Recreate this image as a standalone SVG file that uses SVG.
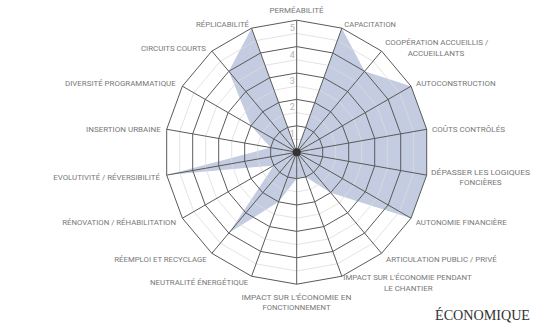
<svg xmlns="http://www.w3.org/2000/svg" width="551" height="328" viewBox="0 0 551 328">
<style>
.lbl{font-family:Roboto,"Liberation Sans",sans-serif;font-size:7.5px;fill:#777;}
.num{font-family:Roboto,"Liberation Sans",sans-serif;font-size:9px;fill:#b4b4b4;}
.major{fill:none;stroke:#5a5a5a;stroke-width:1;}
.minor{fill:none;stroke:#dcdcdc;stroke-width:0.8;}
.title{font-family:"Liberation Serif",serif;font-size:15px;fill:#333;}
</style>
<rect width="551" height="328" fill="#fff"/>
<g id="chart" transform="translate(296.7,152.2)">
  <polygon id="data" fill="#c3cce0" points="0,0 45.15,-124.04 67.88,-80.9 114.32,-66 130,-22.92 130,22.92 114.32,66 33.94,40.45 9.03,24.81 0,26.4 -18.06,49.62 -67.88,80.9 -22.86,13.2 -130,22.92 -26,-4.58 -45.73,-26.4 -67.88,-80.9 -45.15,-124.04"/>
  <g id="minor-rings" class="minor">
    <polygon points="0,-118.8 40.64,-111.64 76.37,-91.01 102.89,-59.4 117,-20.63 117,20.63 102.89,59.4 76.37,91.01 40.64,111.64 0,118.8 -40.64,111.64 -76.37,91.01 -102.89,59.4 -117,20.63 -117,-20.63 -102.89,-59.4 -76.37,-91.01 -40.64,-111.64"/>
    <polygon points="0,-92.4 31.61,-86.83 59.4,-70.78 80.02,-46.2 91,-16.04 91,16.04 80.02,46.2 59.4,70.78 31.61,86.83 0,92.4 -31.61,86.83 -59.4,70.78 -80.02,46.2 -91,16.04 -91,-16.04 -80.02,-46.2 -59.4,-70.78 -31.61,-86.83"/>
    <polygon points="0,-66 22.58,-62.02 42.43,-50.56 57.16,-33 65,-11.46 65,11.46 57.16,33 42.43,50.56 22.58,62.02 0,66 -22.58,62.02 -42.43,50.56 -57.16,33 -65,11.46 -65,-11.46 -57.16,-33 -42.43,-50.56 -22.58,-62.02"/>
    <polygon points="0,-39.6 13.55,-37.21 25.46,-30.34 34.3,-19.8 39,-6.88 39,6.88 34.3,19.8 25.46,30.34 13.55,37.21 0,39.6 -13.55,37.21 -25.46,30.34 -34.3,19.8 -39,6.88 -39,-6.88 -34.3,-19.8 -25.46,-30.34 -13.55,-37.21"/>
    <polygon points="0,-13.2 4.52,-12.4 8.49,-10.11 11.43,-6.6 13,-2.29 13,2.29 11.43,6.6 8.49,10.11 4.52,12.4 0,13.2 -4.52,12.4 -8.49,10.11 -11.43,6.6 -13,2.29 -13,-2.29 -11.43,-6.6 -8.49,-10.11 -4.52,-12.4"/>
  </g>
  <g id="major-rings" class="major">
    <polygon points="0,-132 45.15,-124.04 84.85,-101.12 114.32,-66 130,-22.92 130,22.92 114.32,66 84.85,101.12 45.15,124.04 0,132 -45.15,124.04 -84.85,101.12 -114.32,66 -130,22.92 -130,-22.92 -114.32,-66 -84.85,-101.12 -45.15,-124.04"/>
    <polygon points="0,-105.6 36.12,-99.23 67.88,-80.9 91.45,-52.8 104,-18.34 104,18.34 91.45,52.8 67.88,80.9 36.12,99.23 0,105.6 -36.12,99.23 -67.88,80.9 -91.45,52.8 -104,18.34 -104,-18.34 -91.45,-52.8 -67.88,-80.9 -36.12,-99.23"/>
    <polygon points="0,-79.2 27.09,-74.42 50.91,-60.67 68.59,-39.6 78,-13.75 78,13.75 68.59,39.6 50.91,60.67 27.09,74.42 0,79.2 -27.09,74.42 -50.91,60.67 -68.59,39.6 -78,13.75 -78,-13.75 -68.59,-39.6 -50.91,-60.67 -27.09,-74.42"/>
    <polygon points="0,-52.8 18.06,-49.62 33.94,-40.45 45.73,-26.4 52,-9.17 52,9.17 45.73,26.4 33.94,40.45 18.06,49.62 0,52.8 -18.06,49.62 -33.94,40.45 -45.73,26.4 -52,9.17 -52,-9.17 -45.73,-26.4 -33.94,-40.45 -18.06,-49.62"/>
    <polygon points="0,-26.4 9.03,-24.81 16.97,-20.22 22.86,-13.2 26,-4.58 26,4.58 22.86,13.2 16.97,20.22 9.03,24.81 0,26.4 -9.03,24.81 -16.97,20.22 -22.86,13.2 -26,4.58 -26,-4.58 -22.86,-13.2 -16.97,-20.22 -9.03,-24.81"/>
  </g>
  <g id="connectors" class="major">
    <path d="M0,0L0,-132M0,0L45.15,-124.04M0,0L84.85,-101.12M0,0L114.32,-66M0,0L130,-22.92M0,0L130,22.92M0,0L114.32,66M0,0L84.85,101.12M0,0L45.15,124.04M0,0L0,132M0,0L-45.15,124.04M0,0L-84.85,101.12M0,0L-114.32,66M0,0L-130,22.92M0,0L-130,-22.92M0,0L-114.32,-66M0,0L-84.85,-101.12M0,0L-45.15,-124.04"/>
  </g>
  <circle id="center" r="4" fill="#333"/>
  <g id="scale">
    <text class="num" x="-2" y="-121" text-anchor="end">5</text>
    <text class="num" x="-2" y="-94.6" text-anchor="end">4</text>
    <text class="num" x="-2" y="-68.2" text-anchor="end">3</text>
    <text class="num" x="-2" y="-41.8" text-anchor="end">2</text>
    <text class="num" x="-2" y="-15.4" text-anchor="end">1</text>
  </g>
</g>
<g id="labels">
  <text id="n-permeabilite" class="lbl" x="296.5" y="13" text-anchor="middle" textLength="54" lengthAdjust="spacingAndGlyphs">PERMÉABILITÉ</text>
  <text id="n-capacitation" class="lbl" x="344.3" y="27" textLength="51.7" lengthAdjust="spacingAndGlyphs">CAPACITATION</text>
  <g id="n-cooperation">
    <text class="lbl" x="436.7" y="45" text-anchor="middle" textLength="103" lengthAdjust="spacingAndGlyphs">COOPÉRATION ACCUEILLIS /</text>
    <text class="lbl" x="436" y="55.5" text-anchor="middle" textLength="56.6" lengthAdjust="spacingAndGlyphs">ACCUEILLANTS</text>
  </g>
  <text id="n-autoconstruction" class="lbl" x="416" y="86" textLength="79.7" lengthAdjust="spacingAndGlyphs">AUTOCONSTRUCTION</text>
  <text id="n-couts" class="lbl" x="432" y="132" textLength="73" lengthAdjust="spacingAndGlyphs">COÛTS CONTRÔLÉS</text>
  <g id="n-depasser">
    <text class="lbl" x="431" y="174.5" textLength="99" lengthAdjust="spacingAndGlyphs">DÉPASSER LES LOGIQUES</text>
    <text class="lbl" x="480.5" y="185" text-anchor="middle" textLength="42" lengthAdjust="spacingAndGlyphs">FONCIÈRES</text>
  </g>
  <text id="n-autonomie" class="lbl" x="415.7" y="225" textLength="91" lengthAdjust="spacingAndGlyphs">AUTONOMIE FINANCIÈRE</text>
  <text id="n-articulation" class="lbl" x="386" y="262" textLength="110.7" lengthAdjust="spacingAndGlyphs">ARTICULATION PUBLIC / PRIVÉ</text>
  <g id="n-impact-chantier">
    <text class="lbl" x="343.3" y="280" textLength="128.4" lengthAdjust="spacingAndGlyphs">IMPACT SUR L'ÉCONOMIE PENDANT</text>
    <text class="lbl" x="408.3" y="291" text-anchor="middle" textLength="48.7" lengthAdjust="spacingAndGlyphs">LE CHANTIER</text>
  </g>
  <g id="n-impact-fonct">
    <text class="lbl" x="296.5" y="300" text-anchor="middle" textLength="110" lengthAdjust="spacingAndGlyphs">IMPACT SUR L'ÉCONOMIE EN</text>
    <text class="lbl" x="296.5" y="310" text-anchor="middle" textLength="68" lengthAdjust="spacingAndGlyphs">FONCTIONNEMENT</text>
  </g>
  <text id="n-neutralite" class="lbl" x="248.3" y="285" text-anchor="end" textLength="98.3" lengthAdjust="spacingAndGlyphs">NEUTRALITÉ ÉNERGÉTIQUE</text>
  <text id="n-reemploi" class="lbl" x="206.7" y="262" text-anchor="end" textLength="92.4" lengthAdjust="spacingAndGlyphs">RÉEMPLOI ET RECYCLAGE</text>
  <text id="n-renovation" class="lbl" x="176" y="225" text-anchor="end" textLength="113.7" lengthAdjust="spacingAndGlyphs">RÉNOVATION / RÉHABILITATION</text>
  <text id="n-evolutivite" class="lbl" x="160" y="180" text-anchor="end" textLength="106.7" lengthAdjust="spacingAndGlyphs">EVOLUTIVITÉ / RÉVERSIBILITÉ</text>
  <text id="n-insertion" class="lbl" x="160.7" y="132" text-anchor="end" textLength="74.7" lengthAdjust="spacingAndGlyphs">INSERTION URBAINE</text>
  <text id="n-diversite" class="lbl" x="175.7" y="86" text-anchor="end" textLength="110.7" lengthAdjust="spacingAndGlyphs">DIVERSITÉ PROGRAMMATIQUE</text>
  <text id="n-circuits" class="lbl" x="206" y="50.5" text-anchor="end" textLength="65" lengthAdjust="spacingAndGlyphs">CIRCUITS COURTS</text>
  <text id="n-replicabilite" class="lbl" x="249" y="27" text-anchor="end" textLength="53" lengthAdjust="spacingAndGlyphs">RÉPLICABILITÉ</text>
</g>
<text id="title" class="title" x="435" y="320" textLength="95" lengthAdjust="spacingAndGlyphs">ÉCONOMIQUE</text>
</svg>
